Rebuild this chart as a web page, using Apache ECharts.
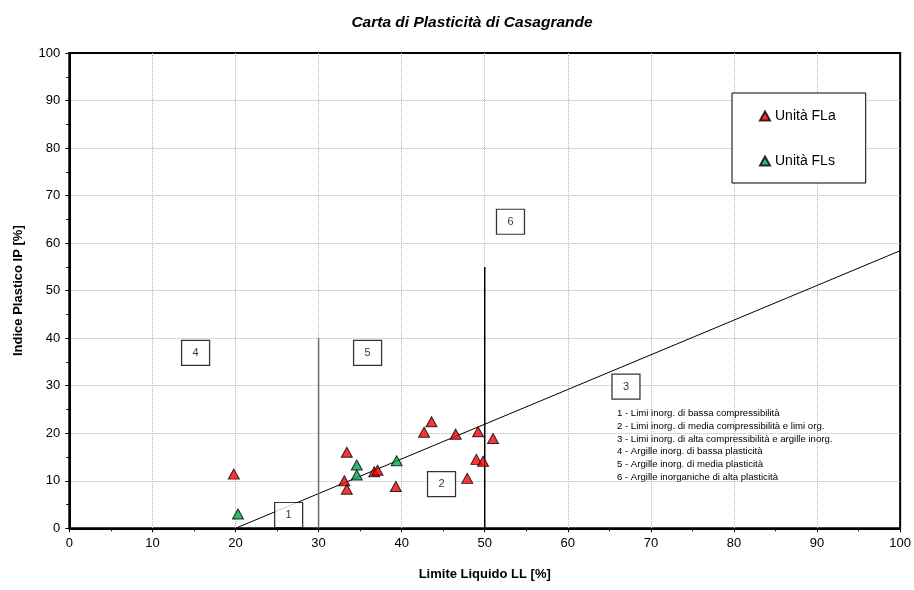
<!DOCTYPE html>
<html>
<head>
<meta charset="utf-8">
<script src="https://cdn.jsdelivr.net/npm/echarts@6/dist/echarts.min.js"></script>
<style>
  html, body { margin: 0; padding: 0; background: #fff; }
  #chart { width: 914px; height: 590px; }
</style>
</head>
<body>
<div id="chart"></div>
<script>
// Casagrande plasticity chart: liquid limit (LL) vs plasticity index (IP)

// Samples, unit FLa
const flaLL = [19.8, 33.4, 33.1, 33.4, 36.7, 37.1, 39.3, 42.7, 43.6, 46.5, 47.9, 49.2, 49.0, 49.8, 51.0];
const flaIP = [11.4, 16.0, 10.0, 8.2, 11.9, 12.2, 8.8, 20.2, 22.4, 19.8, 10.5, 20.3, 14.5, 14.1, 18.9];

// Samples, unit FLs
const flsLL = [20.3, 34.6, 34.6, 39.4];
const flsIP = [3.0, 13.3, 11.2, 14.2];

// A-line end points
const aLineLL = [20, 100];
const aLineIP = [0, 58.4];

// Vertical boundaries (LL = 30 and LL = 50)
const bound30LL = [30, 30];
const bound30IP = [0, 40];
const bound50LL = [50, 50];
const bound50IP = [0, 55];

// Zone tags
const zoneLL = [26.4, 44.8, 67.0, 15.2, 35.9, 53.1];
const zoneIP = [2.8, 9.3, 29.8, 36.9, 36.9, 64.5];
const zoneTag = ['1', '2', '3', '4', '5', '6'];

// Zone descriptions
const zoneNotes = [
  '1 - Limi inorg. di bassa compressibilità',
  '2 - Limi inorg. di media compressibilità e limi org.',
  '3 - Limi inorg. di alta compressibilità e argille inorg.',
  '4 - Argille inorg. di bassa plasticità',
  '5 - Argille inorg. di media plasticità',
  '6 - Argille inorganiche di alta plasticità'
];

// Axis ticks
const axisMin = 0, axisMax = 100, axisStep = 10;

const FONT = '"Liberation Sans", Arial, sans-serif';
const pairs = (xs, ys) => xs.map((x, i) => [x, ys[i]]);

const axisCommon = {
  type: 'value',
  min: axisMin,
  max: axisMax,
  interval: axisStep,
  axisLine: { show: true, lineStyle: { color: '#000', width: 2 } },
  axisTick: { show: true, inside: false, length: 4, lineStyle: { color: '#000', width: 1 } },
  minorTick: { show: true, splitNumber: 2, length: 3, lineStyle: { color: '#000', width: 1 } },
  splitLine: {
    show: true, showMinLine: false, showMaxLine: false,
    lineStyle: { color: '#b4b4b4', type: [1, 1], width: 1 }
  },
  axisLabel: { color: '#000', fontFamily: FONT, fontSize: 13, margin: 9 },
  nameLocation: 'middle',
  nameTextStyle: { color: '#000', fontFamily: FONT, fontSize: 13, fontWeight: 'bold' }
};

const chart = echarts.init(document.getElementById('chart'), null, { renderer: 'canvas' });

chart.setOption({
  animation: false,
  backgroundColor: '#fff',
  title: {
    text: 'Carta di Plasticità di Casagrande',
    left: 467,
    textAlign: 'center',
    top: 10,
    textStyle: { fontFamily: FONT, fontSize: 15.5, fontWeight: 'bold', fontStyle: 'italic', color: '#000' }
  },
  grid: {
    left: 69.3, right: 12.5, top: 53, bottom: 61.7,
    show: true, borderColor: '#000', borderWidth: 2, backgroundColor: '#fff'
  },
  xAxis: Object.assign({}, axisCommon, { name: 'Limite Liquido LL [%]', nameGap: 40 }),
  yAxis: Object.assign({}, axisCommon, { name: 'Indice Plastico IP [%]', nameGap: 44 }),
  legend: {
    orient: 'vertical',
    left: 732,
    top: 93,
    padding: [16, 30, 15, 27],
    itemGap: 31,
    itemWidth: 10,
    itemHeight: 9,
    borderColor: '#000',
    borderWidth: 1,
    backgroundColor: '#fff',
    data: ['Unità FLa', 'Unità FLs'],
    textStyle: { fontFamily: FONT, fontSize: 14, color: '#000' }
  },
  graphic: [{
    type: 'text',
    left: 617,
    top: 407,
    z: 100,
    style: {
      text: zoneNotes.join('\n'),
      font: '9.6px ' + FONT,
      lineHeight: 12.8,
      fill: '#000'
    }
  }],
  series: [
    {
      name: 'A-line',
      type: 'line',
      data: pairs(aLineLL, aLineIP),
      symbol: 'none',
      lineStyle: { color: '#000', width: 1 },
      z: 2
    },
    {
      name: 'LL30',
      type: 'line',
      data: pairs(bound30LL, bound30IP),
      symbol: 'none',
      lineStyle: { color: '#6a6a6a', width: 1.5 },
      z: 2
    },
    {
      name: 'LL50',
      type: 'line',
      data: pairs(bound50LL, bound50IP),
      symbol: 'none',
      lineStyle: { color: '#000', width: 1.5 },
      z: 2
    },
    {
      name: 'zone',
      type: 'scatter',
      data: zoneLL.map((x, i) => ({ value: [x, zoneIP[i]], tag: zoneTag[i] })),
      symbol: 'rect',
      symbolSize: [28, 25],
      itemStyle: { color: '#fff', borderColor: '#000', borderWidth: 1.2 },
      label: {
        show: true,
        position: 'inside',
        formatter: p => p.data.tag,
        fontFamily: FONT,
        fontSize: 11,
        color: '#000'
      },
      z: 3
    },
    {
      name: 'Unità FLa',
      type: 'scatter',
      data: pairs(flaLL, flaIP),
      symbol: 'triangle',
      symbolSize: [11, 10],
      itemStyle: { color: '#ff0000', borderColor: '#000', borderWidth: 1 },
      z: 5
    },
    {
      name: 'Unità FLs',
      type: 'scatter',
      data: pairs(flsLL, flsIP),
      symbol: 'triangle',
      symbolSize: [11, 10],
      itemStyle: { color: '#00a650', borderColor: '#000', borderWidth: 1 },
      z: 5
    }
  ]
});
</script>
</body>
</html>
